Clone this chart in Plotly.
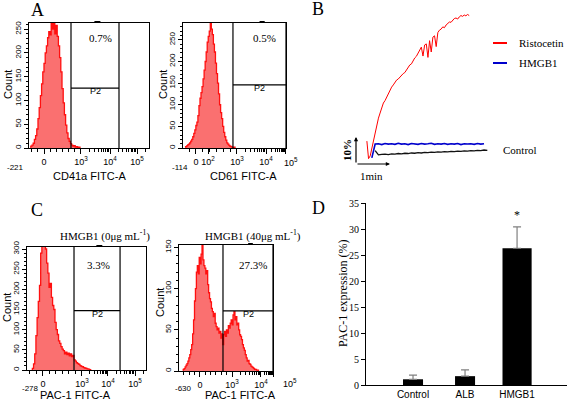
import math
import plotly.graph_objects as go

W, H = 567, 405
SERIF = "Liberation Serif, Times New Roman, serif"
SANS = "Liberation Sans, Arial, sans-serif"

# ---------------- DATA ----------------
# Flow cytometry histograms (counts per channel bin, display channel 0..1000)
a1_counts = [2, 4, 6, 10, 18, 26, 40, 62, 85, 110, 135, 160, 178, 200, 215, 232, 245, 238,
             262, 250, 265, 240, 258, 235, 215, 190, 160, 125, 95, 70, 48, 32, 20, 14, 9, 6,
             4, 5, 2, 3, 1, 2, 0]
a1_x0, a1_dx = 10, 10

a2_counts = [2, 3, 5, 7, 9, 12, 16, 20, 26, 34, 42, 52, 60, 75, 98, 115, 128, 142, 160, 180,
             200, 222, 245, 258, 270, 288, 275, 262, 240, 222, 196, 172, 150, 125, 100, 82,
             68, 50, 36, 26, 18, 12, 9, 6, 4, 3, 2, 1, 2, 0]
a2_x0, a2_dx = 20, 10

c1_counts = [1, 4, 15, 40, 85, 130, 170, 210, 290, 330, 315, 340, 300, 265, 240, 205, 215,
             180, 160, 150, 118, 100, 88, 72, 66, 58, 52, 48, 40, 44, 38, 42, 35, 40, 33, 36,
             25, 22, 18, 16, 14, 11, 9, 8, 6, 5, 4, 3, 2, 1, 0]
c1_x0, c1_dx = 40, 10

c2_counts = [1, 2, 3, 5, 7, 9, 12, 16, 20, 26, 32, 45, 62, 85, 100, 120, 128, 118, 138, 130,
             142, 155, 135, 128, 125, 118, 122, 105, 95, 88, 84, 76, 72, 66, 70, 58, 54, 50,
             52, 46, 48, 40, 45, 32, 44, 48, 42, 50, 46, 55, 52, 58, 62, 56, 68, 72, 62, 66,
             56, 58, 50, 44, 42, 38, 32, 28, 25, 20, 16, 12, 13, 9, 8, 6, 5, 4, 3, 2, 2, 1, 1, 0]
c2_x0, c2_dx = 40, 10

# Aggregation traces (minutes, % aggregation)
ristocetin = [7, 0.5, 1.5, 4.5, 7.5, 10.5, 13.3, 15.5, 17.4, 19.5, 21.1, 22.0, 23.3, 24.8,
              25.9, 27.0, 27.8, 28.9, 29.6, 30.0, 30.8, 31.5, 32.0, 32.4, 33.5, 34.2, 35.2,
              35.6, 37.0, 37.8, 38.4, 39.6, 40.2, 41.8, 38.5, 42.6, 43.0, 38.0, 44.2, 40.0,
              45.5, 46.0, 42.0, 47.2, 48.1, 48.5, 49.3, 49.0, 50.0, 50.6, 51.1, 51.0, 51.9,
              52.4, 52.6, 52.2, 53.0, 53.5, 53.2, 53.7, 53.4, 53.9, 53.5]
risto_t0, risto_dt = 0.33, 0.05
hmgb1_agg = [0.8, 5.9, 6.0, 5.7, 6.1, 5.9, 6.0, 5.8, 6.2, 5.9, 6.0, 5.7, 6.1, 6.0, 5.8, 6.1,
             5.9, 6.0, 6.2, 5.8, 6.0, 5.9, 6.1, 5.8, 6.0, 5.9, 6.1, 5.7, 6.0, 5.9, 6.0, 5.8,
             6.1, 5.9, 6.0]
hmgb1_t0, hmgb1_dt = 0.48, 0.1
control_agg = [3.5, 1.9, 2.1, 2.2, 2.0, 2.3, 2.2, 2.4, 2.3, 2.5, 2.4, 2.6, 2.5, 2.7, 2.6, 2.8,
               2.7, 2.9, 2.8, 3.0, 2.9, 3.1, 3.0, 3.2, 3.1, 3.3, 3.2, 3.4, 3.3, 3.5, 3.4, 3.6,
               3.5, 3.7, 3.6]
control_t0, control_dt = 0.58, 0.1

# Bar chart D
d_categories = ["Control", "ALB", "HMGB1"]
d_values = [1.1, 1.7, 26.3]
d_errors = [0.8, 1.2, 4.1]

# Tick labels
decade_labels = ["0", "10<sup>2</sup>", "10<sup>3</sup>", "10<sup>4</sup>", "10<sup>5</sup>"]

# ---------------- helpers ----------------
def px(x):
    return x / W


def py(y):
    return 1 - y / H


fig = go.Figure()
annotations = []
shapes = []


def label(x, y, text, family=SANS, size=9, xanchor="center", angle=0, **kw):
    d = dict(xref="paper", yref="paper", x=px(x), y=py(y), text=text, showarrow=False,
             xanchor=xanchor, yanchor="middle", textangle=angle,
             font=dict(family=family, size=size, color="black"))
    d.update(kw)
    annotations.append(d)


def minor_ticks(zero, d3, d4, d5, lo, hi):
    t = []
    step = (d3 - zero) / 6.0
    v = zero - step
    while v > lo:
        t.append(v)
        v -= step
    for k in range(1, 6):
        t.append(zero + step * k)
    for a, b in ((d3, d4), (d4, d5)):
        for k in range(2, 10):
            t.append(a + math.log10(k) * (b - a))
    for k in range(2, 10):
        v = d5 + math.log10(k) * (d5 - d4)
        if v < hi:
            t.append(v)
    return [v for v in t if lo < v < hi]


def flow_panel(idx, box, counts, x0, dx, ymax, major_vals, major_text, gate, gate_y,
               minlab, minlab_pos, pct, pct_pos, count_pos, title, title_pos, extra_labels=()):
    left, right, top, bottom = box
    xa = "xaxis" if idx == 1 else f"xaxis{idx}"
    ya = "yaxis" if idx == 1 else f"yaxis{idx}"
    xr = "x" if idx == 1 else f"x{idx}"
    yr = "y" if idx == 1 else f"y{idx}"
    fig.add_trace(go.Scatter(x0=x0, dx=dx, y=counts, mode="lines", xaxis=xr, yaxis=yr,
                             line=dict(color="#ff1010", width=1.3, shape="hvh"),
                             fill="tozeroy", fillcolor="rgb(250,112,112)",
                             showlegend=False, hoverinfo="skip"))
    zero, d3, d4, d5 = major_vals[0], major_vals[-3], major_vals[-2], major_vals[-1]
    fig.layout[xa] = dict(domain=[px(left), px(right)], range=[0, 1000], anchor=yr,
                          showline=True, mirror=True, linecolor="black", linewidth=1,
                          showgrid=False, zeroline=False, ticks="outside", ticklen=5,
                          tickcolor="black", tickmode="array", tickvals=major_vals,
                          ticktext=major_text, tickfont=dict(family=SANS, size=9, color="black"),
                          minor=dict(tickmode="array",
                                     tickvals=minor_ticks(zero, d3, d4, d5, 0, 1000),
                                     ticks="outside", ticklen=3, tickcolor="black",
                                     showgrid=False),
                          automargin=False, fixedrange=True)
    fig.layout[ya] = dict(domain=[py(bottom), py(top)], range=[0, ymax], anchor=xr,
                          showline=True, mirror=True, linecolor="black", linewidth=1,
                          showgrid=False, zeroline=False, ticks="outside", ticklen=4,
                          tickcolor="black", dtick=50, tickangle=-90,
                          tickfont=dict(family=SANS, size=8, color="black"),
                          minor=dict(dtick=10, ticks="outside", ticklen=2, tickcolor="black",
                                     showgrid=False),
                          automargin=False, fixedrange=True)
    g0, g1 = gate
    for gx in (g0, g1):
        shapes.append(dict(type="line", xref=xr, yref=f"{yr} domain", x0=gx, x1=gx, y0=0, y1=1,
                           line=dict(color="black", width=1.2)))
    shapes.append(dict(type="line", xref=xr, yref=yr, x0=g0, x1=g1, y0=gate_y, y1=gate_y,
                       line=dict(color="black", width=1.2)))
    gm = g0 + (g1 - g0) * 0.55
    shapes.append(dict(type="line", xref=xr, yref=f"{yr} domain", x0=gm - 25, x1=gm + 25,
                       y0=1.01, y1=1.01, line=dict(color="black", width=1.5)))
    annotations.append(dict(xref=xr, yref=yr, x=(g0 + g1) / 2, y=gate_y, text="P2",
                            showarrow=False, xanchor="center", yanchor="middle", yshift=-3,
                            font=dict(family=SANS, size=9, color="black")))
    label(minlab_pos[0], minlab_pos[1], minlab, size=8)
    for txt, pos in extra_labels:
        label(pos[0], pos[1], txt, size=9)
    label(pct_pos[0], pct_pos[1], pct, family=SERIF, size=11)
    label(count_pos[0], count_pos[1], "Count", size=11, angle=-90)
    label(title_pos[0], title_pos[1], title, size=11)


L0 = decade_labels[0]
L2, L3, L4, L5 = decade_labels[1:]

# Panel A (left) CD41a
flow_panel(1, (29, 149, 23, 148), a1_counts, a1_x0, a1_dx, 263,
           [125, 433, 675, 900], [L0, L3, L4, L5], (350, 750), 126,
           "-221", (15, 168), "0.7%", (100, 38), (8, 85), "CD41a FITC-A", (89, 176))
# Panel A (right) CD61
flow_panel(2, (183, 286, 23, 148), a2_counts, a2_x0, a2_dx, 289,
           [126, 243, 524, 806, 995], [L0, L2, L3, L4, ""], (485, 1000), 146,
           "-114", (180, 168), "0.5%", (264, 38), (163, 85), "CD61 FITC-A", (243, 176),
           extra_labels=[(L5, (291, 162))])
# Panel C (left)
flow_panel(4, (27, 146, 247, 370), c1_counts, c1_x0, c1_dx, 305,
           [134, 462, 680, 908], [L0, L3, L4, L5], (395, 782), 147,
           "-278", (30, 388), "3.3%", (98, 265), (7, 308), "PAC-1 FITC-A", (75, 395))
# Panel C (right)
flow_panel(5, (179, 273, 245, 371), c2_counts, c2_x0, c2_dx, 153,
           [223, 564, 872, 1000], [L0, L3, L4, ""], (468, 1000), 73,
           "-630", (183, 388), "27.3%", (253, 265), (160, 303), "PAC-1 FITC-A", (240, 395),
           extra_labels=[(L5, (290, 383))])

label(105, 235, "HMGB1 (0μg mL<sup>-1</sup>)", family=SERIF, size=11)
label(253, 235, "HMGB1 (40μg mL<sup>-1</sup>)", family=SERIF, size=11)

# ---------------- Panel B ----------------
fig.add_trace(go.Scatter(x0=risto_t0, dx=risto_dt, y=ristocetin, mode="lines", xaxis="x3",
                         yaxis="y3", line=dict(color="#ff0000", width=1), showlegend=False))
fig.add_trace(go.Scatter(x0=hmgb1_t0, dx=hmgb1_dt, y=hmgb1_agg, mode="lines", xaxis="x3",
                         yaxis="y3", line=dict(color="#0000cc", width=1.6), showlegend=False))
fig.add_trace(go.Scatter(x0=control_t0, dx=control_dt, y=control_agg, mode="lines", xaxis="x3",
                         yaxis="y3", line=dict(color="#111111", width=1.3), showlegend=False))
# t -> px: 356 + 33 t ; a -> px: 160 - 2.7 a
bl, br, bt, bb = 340, 500, 5, 170
fig.layout["xaxis3"] = dict(domain=[px(bl), px(br)], range=[(bl - 356) / 33, (br - 356) / 33],
                            visible=False, anchor="y3", fixedrange=True)
fig.layout["yaxis3"] = dict(domain=[py(bb), py(bt)], range=[(160 - bb) / 2.7, (160 - bt) / 2.7],
                            visible=False, anchor="x3", fixedrange=True)
# legend keys
for yk, col, name in ((43, "#ff0000", "Ristocetin"), (63, "#0000cc", "HMGB1")):
    shapes.append(dict(type="line", xref="paper", yref="paper", x0=px(493), x1=px(507),
                       y0=py(yk), y1=py(yk), line=dict(color=col, width=2)))
    label(517, yk, name, family=SERIF, size=11, xanchor="left")
label(501, 150, "Control", family=SERIF, size=11, xanchor="left")
# scale bar
annotations.append(dict(xref="paper", yref="paper", x=px(356), y=py(137), text="",
                        showarrow=True, ax=0, ay=27, arrowhead=2, arrowsize=0.7,
                        arrowwidth=1.2, arrowcolor="black", standoff=0))
annotations.append(dict(xref="paper", yref="paper", x=px(390), y=py(164), text="",
                        showarrow=True, ax=-34, ay=0, arrowhead=2, arrowsize=0.7,
                        arrowwidth=1.2, arrowcolor="black", standoff=0))
label(347, 150, "<b>10%</b>", family=SERIF, size=11, angle=-90)
label(371, 176, "1min", family=SERIF, size=11)

# ---------------- Panel D ----------------
fig.add_trace(go.Bar(x=d_categories, y=d_values, xaxis="x6", yaxis="y6",
                     marker=dict(color="black", line=dict(width=0)),
                     width=[0.385, 0.385, 0.56],
                     error_y=dict(type="data", symmetric=False, array=d_errors,
                                  arrayminus=[0] * len(d_errors), color="#808080",
                                  thickness=1.2, width=4),
                     showlegend=False))
fig.layout["xaxis6"] = dict(domain=[px(366), px(567)], range=[-0.904, 2.96], anchor="y6",
                            showline=True, linecolor="black", linewidth=1, showgrid=False,
                            ticks="", tickfont=dict(family=SANS, size=10, color="black"),
                            automargin=False, fixedrange=True)
fig.layout["yaxis6"] = dict(domain=[py(385), py(203)], range=[0, 35], anchor="x6", dtick=5,
                            showline=True, linecolor="black", linewidth=1, showgrid=False,
                            zeroline=False, ticks="outside", ticklen=4, tickcolor="black",
                            tickfont=dict(family=SERIF, size=10, color="black"),
                            automargin=False, fixedrange=True)
annotations.append(dict(xref="x6", yref="y6", x=d_categories[2], y=d_values[2] + d_errors[2],
                        yshift=12, text="*", showarrow=False, xanchor="center",
                        yanchor="middle", font=dict(family=SERIF, size=12, color="black")))
label(343, 293, "PAC-1 expression (%)", family=SERIF, size=12, angle=-90)

# panel letters
for letter, (lx, ly) in (("A", (37, 10)), ("B", (318, 9)), ("C", (37, 210)), ("D", (318, 208))):
    label(lx, ly, letter, family=SERIF, size=18)

fig.update_layout(width=W, height=H, margin=dict(l=0, r=0, t=0, b=0, pad=0, autoexpand=False),
                  paper_bgcolor="white", plot_bgcolor="white",
                  annotations=annotations, shapes=shapes, showlegend=False)
fig.write_html("out.html", config={"displayModeBar": False},
               post_script="document.body.style.margin='0';document.body.style.overflow='hidden';")
